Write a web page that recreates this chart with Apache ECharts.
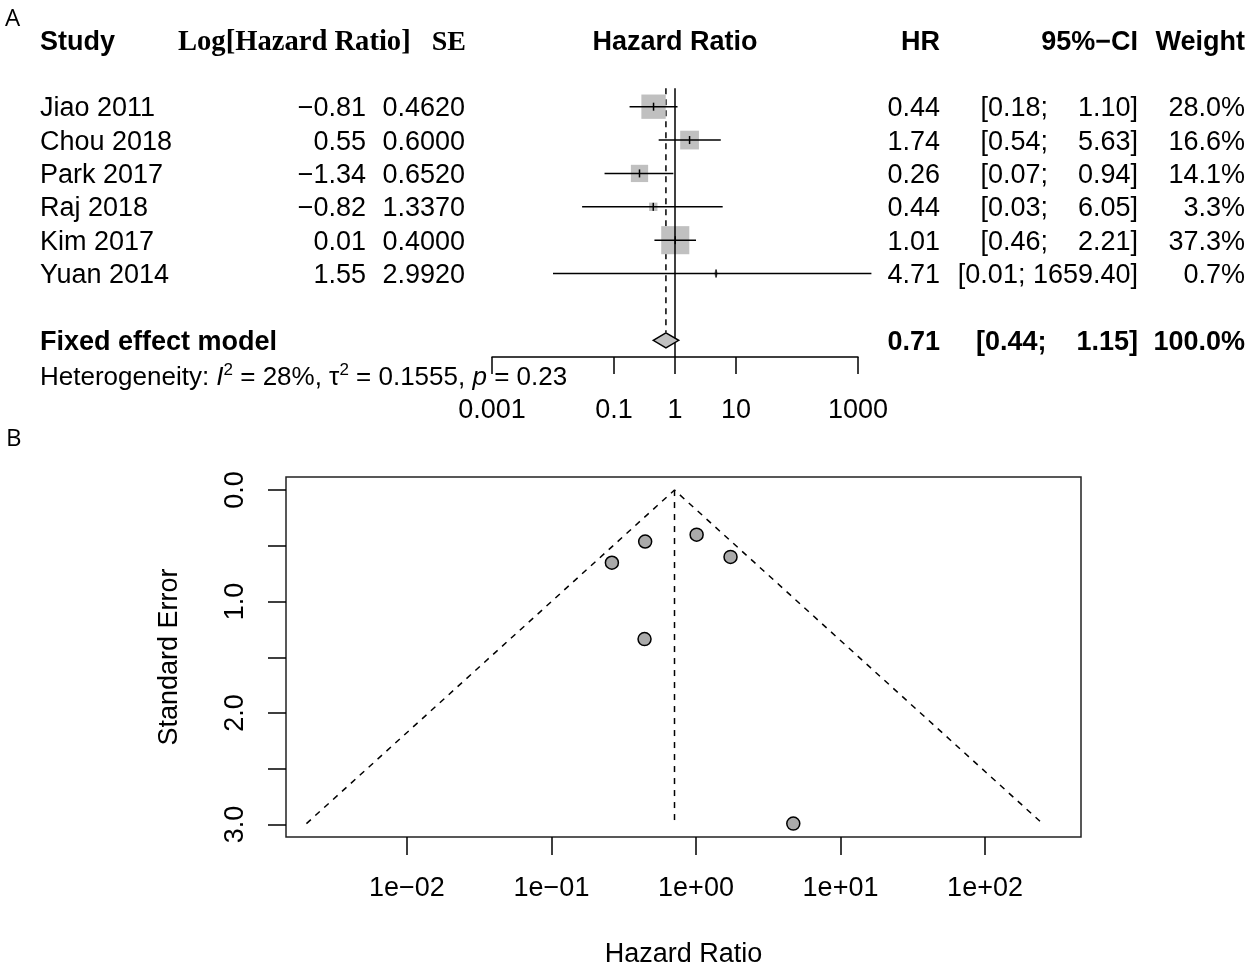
<!DOCTYPE html>
<html>
<head>
<meta charset="utf-8">
<title>Forest and funnel plot</title>
<script src="https://cdn.jsdelivr.net/npm/echarts@6/dist/echarts.min.js"></script>
<style>
  html, body { margin: 0; padding: 0; background: #fff; }
  #chart { width: 1248px; height: 966px; }
</style>
</head>
<body>
<div id="chart"></div>
<script>
// study level data, as printed in the table
const studies = ['Jiao 2011', 'Chou 2018', 'Park 2017', 'Raj 2018', 'Kim 2017', 'Yuan 2014'];
const logHR = [-0.81, 0.55, -1.34, -0.82, 0.01, 1.55];
const seLogHR = [0.4620, 0.6000, 0.6520, 1.3370, 0.4000, 2.9920];
const hr = [0.44, 1.74, 0.26, 0.44, 1.01, 4.71];
const ciLower = [0.18, 0.54, 0.07, 0.03, 0.46, 0.01];
const ciUpper = [1.10, 5.63, 0.94, 6.05, 2.21, 1659.40];
const weight = [28.0, 16.6, 14.1, 3.3, 37.3, 0.7];

// fixed effect model
const fixedHR = 0.71;
const fixedLower = 0.44;
const fixedUpper = 1.15;
const fixedWeight = 100.0;

// heterogeneity
const i2 = 28;
const tau2 = 0.1555;
const pHet = 0.23;

// axis ticks
const forestTicks = [0.001, 0.1, 1, 10, 1000];
const funnelTicksX = [1e-2, 1e-1, 1, 1e1, 1e2];
const funnelTicksY = [0, 0.5, 1, 1.5, 2, 2.5, 3];
const funnelLabelsY = [0, 1, 2, 3];

const SANS = '"Liberation Sans", Arial, Helvetica, sans-serif';
const SERIF = '"Liberation Serif", "Times New Roman", serif';
const FS = 27;
const SUMMARY_ROW = 7;
const SQUARE_SCALE = 4.6;
const TEXT_DY = 2; // glyphs sit a bit low in the original
const MINUS = '\u2212';

// table columns (right edges unless noted)
const COL = { study: 40, logHR: 366, se: 465, hr: 940, ci: 1138, weight: 1245 };

const lg = Math.log10;
const fmtSigned = v => (v < 0 ? MINUS : '') + Math.abs(v).toFixed(2);
const fmtCI = (lo, hi) => '[' + lo.toFixed(2) + '; ' + hi.toFixed(2).padStart(7, ' ') + ']';

function txt(x, y, text, align, bold, family, size) {
  return {
    type: 'text', x: x, y: y + TEXT_DY,
    style: {
      text: text, fill: '#000', align: align || 'left', verticalAlign: 'middle',
      fontSize: size || FS, fontFamily: family || SANS, fontWeight: bold ? 'bold' : 'normal'
    }
  };
}

const seMax = Math.max.apply(null, seLogHR);
const pooled = lg(fixedHR);
const halfWidth = 1.96 * seMax / Math.LN10;

const chart = echarts.init(document.getElementById('chart'));

chart.setOption({
  backgroundColor: '#fff',
  animation: false,
  grid: [
    { left: 492, width: 366, top: 90, height: 267, outerBoundsMode: 'none' },
    { left: 286, right: 167, top: 477, height: 360, outerBoundsMode: 'none',
      show: true, borderColor: '#222', borderWidth: 1.5, backgroundColor: 'transparent' }
  ],
  xAxis: [
    {
      gridIndex: 0, type: 'value', min: -3, max: 3,
      axisLine: { onZero: false, lineStyle: { color: '#000', width: 1.5 } },
      axisTick: { length: 17, lineStyle: { color: '#000', width: 1.5 }, customValues: forestTicks.map(lg) },
      axisLabel: {
        customValues: forestTicks.map(lg), margin: 40, color: '#000', fontSize: FS, fontFamily: SANS,
        formatter: v => String(forestTicks.find(t => Math.abs(lg(t) - v) < 1e-9))
      },
      splitLine: { show: false }
    },
    {
      gridIndex: 1, type: 'value', min: -2.837, max: 2.664,
      axisLine: { show: false, onZero: false },
      axisTick: { length: 18, lineStyle: { color: '#000', width: 1.5 }, customValues: funnelTicksX.map(lg) },
      axisLabel: {
        customValues: funnelTicksX.map(lg), margin: 38, color: '#000', fontSize: FS, fontFamily: SANS,
        formatter: v => {
          const e = Math.round(v);
          return '1e' + (e < 0 ? MINUS : '+') + String(Math.abs(e)).padStart(2, '0');
        }
      },
      splitLine: { show: false },
      name: 'Hazard Ratio', nameLocation: 'middle', nameGap: 104,
      nameTextStyle: { color: '#000', fontSize: FS, fontFamily: SANS }
    }
  ],
  yAxis: [
    { gridIndex: 0, type: 'value', inverse: true, min: -0.5, max: 7.5, show: false },
    {
      gridIndex: 1, type: 'value', inverse: true, min: -0.117, max: 3.112,
      axisLine: { show: false, onZero: false },
      axisTick: { length: 18, lineStyle: { color: '#000', width: 1.5 }, customValues: funnelTicksY },
      axisLabel: {
        customValues: funnelLabelsY, rotate: 90, margin: 37, color: '#000', fontSize: FS, fontFamily: SANS,
        formatter: v => v.toFixed(1)
      },
      splitLine: { show: false },
      name: 'Standard Error', nameLocation: 'middle', nameGap: 103, nameRotate: 90,
      nameTextStyle: { color: '#000', fontSize: FS, fontFamily: SANS }
    }
  ],
  graphic: [
    { type: 'text', left: 5, top: 7, style: { text: 'A', fontSize: 24, fontFamily: '"Open Sans", sans-serif', fill: '#000' } },
    { type: 'text', left: 6, top: 427, style: { text: 'B', fontSize: 24, fontFamily: '"Open Sans", sans-serif', fill: '#000' } },
    txt(COL.study, 41, 'Study', 'left', true),
    txt(178, 41, 'Log[Hazard Ratio]', 'left', true, SERIF, 28.6),
    txt(COL.se + 1, 41, 'SE', 'right', true, SERIF, 28),
    txt(675, 41, 'Hazard Ratio', 'center', true),
    txt(COL.hr, 41, 'HR', 'right', true),
    txt(COL.ci, 41, '95%' + MINUS + 'CI', 'right', true),
    txt(COL.weight, 41, 'Weight', 'right', true),
    {
      type: 'text', x: COL.study, y: 376 + TEXT_DY,
      style: {
        text: 'Heterogeneity: {it|I}{sup|2} = ' + i2 + '%, \u03c4{sup|2} = ' + tau2.toFixed(4) + ', {it|p} = ' + pHet.toFixed(2),
        fill: '#000', fontSize: 26, fontFamily: SANS, verticalAlign: 'middle', lineHeight: 32,
        rich: {
          it: { fontStyle: 'italic', fontSize: 26, fontFamily: SANS, fill: '#000', lineHeight: 32 },
          sup: { fontSize: 17, fontFamily: SANS, fill: '#000', verticalAlign: 'top', lineHeight: 22 }
        }
      }
    }
  ],
  series: [
    // dashed line of the pooled estimate (behind squares)
    {
      type: 'custom', xAxisIndex: 0, yAxisIndex: 0, z: 1, clip: false,
      data: [[pooled, SUMMARY_ROW]],
      renderItem: (params, api) => {
        const top = api.coord([api.value(0), -0.55]);
        const bot = api.coord([api.value(0), api.value(1)]);
        return {
          type: 'line', shape: { x1: top[0], y1: top[1], x2: bot[0], y2: bot[1] - 8 },
          style: { stroke: '#000', lineWidth: 1.5, lineDash: [6, 5] }
        };
      }
    },
    // study squares and confidence intervals
    {
      type: 'custom', xAxisIndex: 0, yAxisIndex: 0, z: 2, clip: false,
      data: studies.map((s, i) => [i, logHR[i] / Math.LN10, lg(ciLower[i]), lg(ciUpper[i]), weight[i]]),
      renderItem: (params, api) => {
        const row = api.value(0);
        const c = api.coord([api.value(1), row]);
        const lo = api.coord([api.value(2), row]);
        const hi = api.coord([api.value(3), row]);
        const side = SQUARE_SCALE * Math.sqrt(api.value(4));
        return {
          type: 'group', children: [
            { type: 'rect', shape: { x: c[0] - side / 2, y: c[1] - side / 2, width: side, height: side },
              style: { fill: '#c0c0c0' } },
            { type: 'line', z2: 2, shape: { x1: c[0], y1: c[1] - 4, x2: c[0], y2: c[1] + 4 },
              style: { stroke: '#000', lineWidth: 1.5 } },
            { type: 'line', z2: 2, shape: { x1: lo[0], y1: c[1], x2: hi[0], y2: c[1] },
              style: { stroke: '#000', lineWidth: 1.5 } }
          ]
        };
      }
    },
    // line of no effect and the pooled diamond
    {
      type: 'custom', xAxisIndex: 0, yAxisIndex: 0, z: 3, clip: false,
      data: [[SUMMARY_ROW, pooled, lg(fixedLower), lg(fixedUpper)]],
      renderItem: (params, api) => {
        const row = api.value(0);
        const t = api.coord([0, -0.55]);
        const b = api.coord([0, 7.5]);
        const c = api.coord([api.value(1), row]);
        const lo = api.coord([api.value(2), row]);
        const hi = api.coord([api.value(3), row]);
        const h = 7.5;
        return {
          type: 'group', children: [
            { type: 'line', shape: { x1: t[0], y1: t[1], x2: b[0], y2: b[1] },
              style: { stroke: '#000', lineWidth: 1.5 } },
            { type: 'polygon', shape: { points: [[lo[0], c[1]], [c[0], c[1] - h], [hi[0], c[1]], [c[0], c[1] + h]] },
              style: { fill: '#c0c0c0', stroke: '#000', lineWidth: 1.5 } }
          ]
        };
      }
    },
    // text table rows
    {
      type: 'custom', xAxisIndex: 0, yAxisIndex: 0, z: 4, clip: false, silent: true,
      data: studies.map((s, i) => [i]),
      renderItem: (params, api) => {
        const i = params.dataIndex;
        const y = api.coord([0, api.value(0)])[1];
        return {
          type: 'group', children: [
            txt(COL.study, y, studies[i], 'left'),
            txt(COL.logHR, y, fmtSigned(logHR[i]), 'right'),
            txt(COL.se, y, seLogHR[i].toFixed(4), 'right'),
            txt(COL.hr, y, hr[i].toFixed(2), 'right'),
            txt(COL.ci, y, fmtCI(ciLower[i], ciUpper[i]), 'right'),
            txt(COL.weight, y, weight[i].toFixed(1) + '%', 'right')
          ]
        };
      }
    },
    {
      type: 'custom', xAxisIndex: 0, yAxisIndex: 0, z: 4, clip: false, silent: true,
      data: [[SUMMARY_ROW]],
      renderItem: (params, api) => {
        const y = api.coord([0, api.value(0)])[1];
        return {
          type: 'group', children: [
            txt(COL.study, y, 'Fixed effect model', 'left', true),
            txt(COL.hr, y, fixedHR.toFixed(2), 'right', true),
            txt(COL.ci, y, fmtCI(fixedLower, fixedUpper), 'right', true),
            txt(COL.weight, y, fixedWeight.toFixed(1) + '%', 'right', true)
          ]
        };
      }
    },
    // funnel: pseudo confidence limits and pooled estimate
    {
      type: 'line', xAxisIndex: 1, yAxisIndex: 1, symbol: 'none', silent: true,
      data: [[pooled - halfWidth, seMax], [pooled, 0], [pooled + halfWidth, seMax]],
      lineStyle: { color: '#000', width: 1.5, type: [6, 6] }
    },
    {
      type: 'line', xAxisIndex: 1, yAxisIndex: 1, symbol: 'none', silent: true,
      data: [[pooled, 0], [pooled, seMax]],
      lineStyle: { color: '#000', width: 1.5, type: [6, 6] }
    },
    {
      type: 'scatter', xAxisIndex: 1, yAxisIndex: 1, symbol: 'circle', symbolSize: 13, z: 5,
      data: studies.map((s, i) => [logHR[i] / Math.LN10, seLogHR[i]]),
      itemStyle: { color: '#aaaaaa', borderColor: '#000', borderWidth: 1.5, opacity: 1 }
    }
  ]
});
</script>
</body>
</html>
